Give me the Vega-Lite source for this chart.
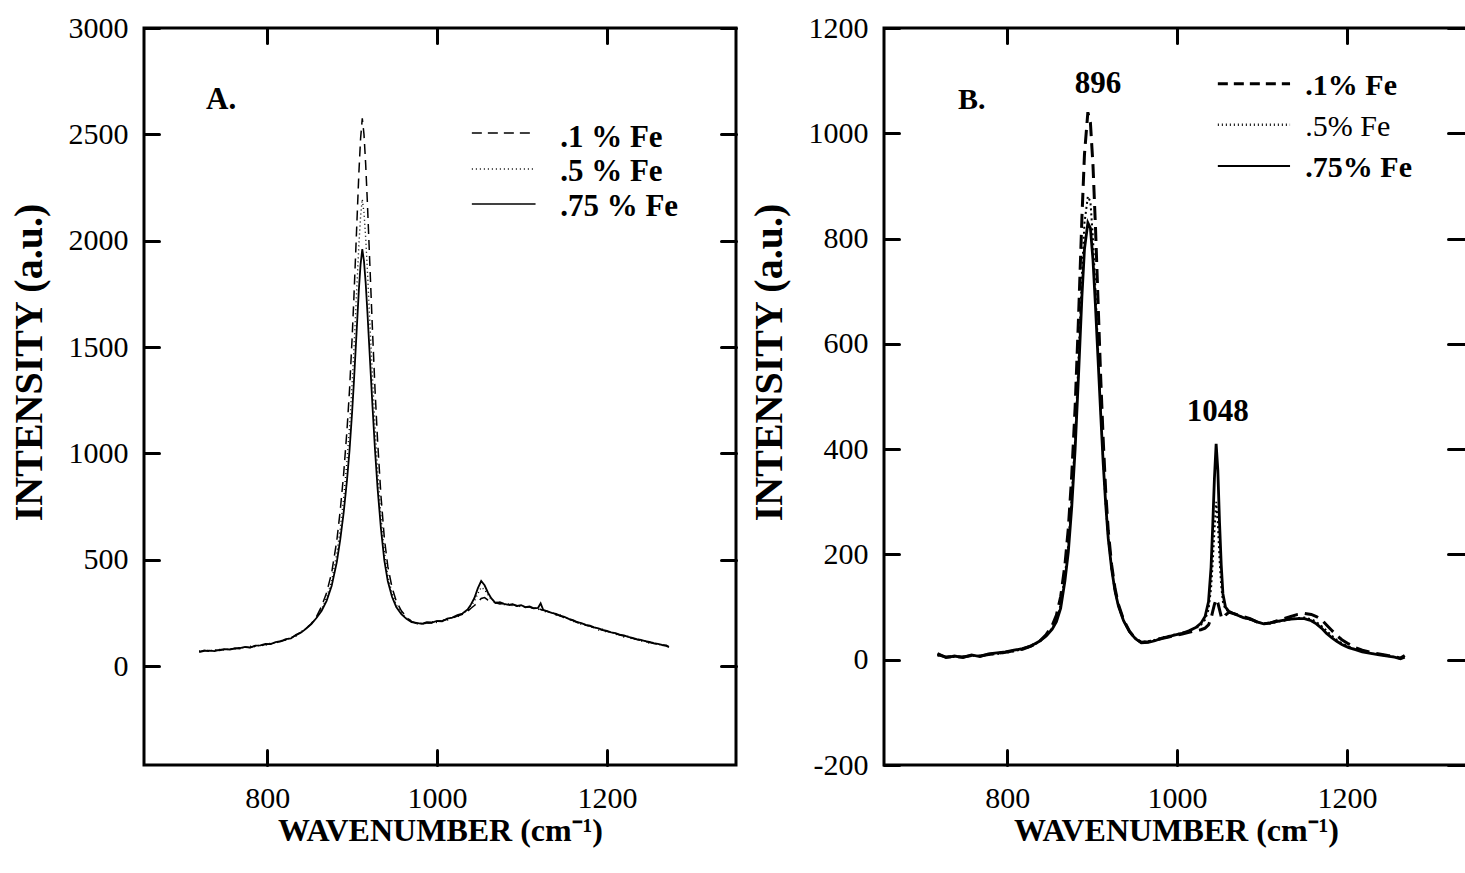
{
  "$schema": "https://vega.github.io/schema/vega-lite/v6.json",
  "background": "white",
  "padding": {"left": 7, "top": 11, "right": 0, "bottom": 0},
  "spacing": 8,
  "config": {
    "view": {"stroke": "black", "strokeWidth": 3},
    "font": "Liberation Serif",
    "axis": {"domain": false, "grid": false, "tickColor": "black", "tickWidth": 3, "tickSize": -15, "tickCap": "round",
      "labelExpr": "datum.value < 0 ? '-' + abs(datum.value) : '' + datum.value",
      "labelFont": "Liberation Serif", "labelFontSize": 30, "labelColor": "black",
      "titleFont": "Liberation Serif", "titleFontWeight": "bold", "titleColor": "black"},
    "axisX": {"labelPadding": 33, "titlePadding": 2, "titleFontSize": 32},
    "axisY": {"labelPadding": 31, "titlePadding": 19, "titleFontSize": 40}
  },
  "datasets": {
    "A": [
      {"x":720,"d1":68,"d5":72,"d75":66},{"x":726,"d1":74,"d5":70,"d75":72},{"x":732,"d1":70,"d5":75,"d75":73},{"x":738,"d1":76,"d5":72,"d75":70},
      {"x":744,"d1":73,"d5":78,"d75":76},{"x":750,"d1":79,"d5":75,"d75":80},{"x":756,"d1":77,"d5":82,"d75":78},{"x":762,"d1":84,"d5":80,"d75":83},
      {"x":768,"d1":82,"d5":87,"d75":85},{"x":774,"d1":89,"d5":85,"d75":90},{"x":780,"d1":88,"d5":93,"d75":87},{"x":786,"d1":95,"d5":91,"d75":96},
      {"x":792,"d1":94,"d5":100,"d75":97},{"x":798,"d1":102,"d5":98,"d75":104},{"x":804,"d1":104,"d5":108,"d75":103},{"x":810,"d1":112,"d5":107,"d75":113},
      {"x":816,"d1":115,"d5":120,"d75":117},{"x":822,"d1":124,"d5":121,"d75":127},{"x":828,"d1":132,"d5":136,"d75":130},{"x":834,"d1":145,"d5":141,"d75":147},
      {"x":840,"d1":160,"d5":162,"d75":158},{"x":846,"d1":178,"d5":180,"d75":176},{"x":852,"d1":200,"d5":198,"d75":197},{"x":858,"d1":232,"d5":228,"d75":226},
      {"x":864,"d1":280,"d5":267,"d75":259},{"x":870,"d1":345,"d5":322,"d75":307},{"x":876,"d1":440,"d5":402,"d75":378},{"x":882,"d1":590,"d5":528,"d75":489},
      {"x":886,"d1":730,"d5":645,"d75":593},{"x":890,"d1":900,"d5":788,"d75":719},{"x":894,"d1":1110,"d5":964,"d75":874},{"x":897,"d1":1300,"d5":1124,"d75":1015},
      {"x":900,"d1":1540,"d5":1326,"d75":1193},{"x":902,"d1":1720,"d5":1477,"d75":1326},{"x":904,"d1":1920,"d5":1645,"d75":1475},{"x":906,"d1":2120,"d5":1813,"d75":1623},
      {"x":908,"d1":2320,"d5":1981,"d75":1771},{"x":910,"d1":2480,"d5":2115,"d75":1889},{"x":912,"d1":2575,"d5":2195,"d75":1960},{"x":914,"d1":2500,"d5":2132,"d75":1904},
      {"x":916,"d1":2360,"d5":2014,"d75":1801},{"x":918,"d1":2180,"d5":1863,"d75":1667},{"x":920,"d1":1980,"d5":1695,"d75":1519},{"x":922,"d1":1780,"d5":1527,"d75":1371},
      {"x":924,"d1":1580,"d5":1359,"d75":1223},{"x":927,"d1":1300,"d5":1124,"d75":1015},{"x":930,"d1":1060,"d5":922,"d75":837},{"x":934,"d1":800,"d5":704,"d75":645},
      {"x":938,"d1":600,"d5":536,"d75":496},{"x":942,"d1":470,"d5":427,"d75":400},{"x":947,"d1":370,"d5":343,"d75":326},{"x":952,"d1":305,"d5":288,"d75":278},
      {"x":958,"d1":260,"d5":250,"d75":244},{"x":964,"d1":230,"d5":225,"d75":222},{"x":970,"d1":210,"d5":212,"d75":207},{"x":976,"d1":200,"d5":197,"d75":203},
      {"x":982,"d1":197,"d5":203,"d75":199},{"x":988,"d1":204,"d5":199,"d75":206},{"x":994,"d1":203,"d5":209,"d75":205},{"x":1000,"d1":210,"d5":205,"d75":212},
      {"x":1006,"d1":213,"d5":218,"d75":210},{"x":1012,"d1":220,"d5":215,"d75":223},{"x":1018,"d1":226,"d5":231,"d75":228},{"x":1024,"d1":235,"d5":230,"d75":240},
      {"x":1030,"d1":244,"d5":249,"d75":247},{"x":1036,"d1":258,"d5":262,"d75":266},{"x":1040,"d1":272,"d5":285,"d75":290},{"x":1044,"d1":285,"d5":305,"d75":320},
      {"x":1048,"d1":300,"d5":340,"d75":365},{"x":1052,"d1":318,"d5":370,"d75":400},{"x":1056,"d1":322,"d5":360,"d75":380},{"x":1060,"d1":310,"d5":335,"d75":345},
      {"x":1064,"d1":302,"d5":312,"d75":318},{"x":1069,"d1":298,"d5":303,"d75":296},{"x":1074,"d1":292,"d5":297,"d75":300},{"x":1079,"d1":295,"d5":289,"d75":293},
      {"x":1084,"d1":286,"d5":292,"d75":288},{"x":1089,"d1":290,"d5":284,"d75":291},{"x":1094,"d1":281,"d5":287,"d75":283},{"x":1099,"d1":284,"d5":278,"d75":286},
      {"x":1104,"d1":276,"d5":281,"d75":277},{"x":1109,"d1":279,"d5":273,"d75":280},{"x":1114,"d1":270,"d5":276,"d75":272},{"x":1119,"d1":272,"d5":266,"d75":274},
      {"x":1122,"d1":266,"d5":270,"d75":295},{"x":1125,"d1":262,"d5":258,"d75":265},{"x":1130,"d1":258,"d5":253,"d75":257},{"x":1135,"d1":248,"d5":254,"d75":250},
      {"x":1140,"d1":244,"d5":239,"d75":246},{"x":1145,"d1":235,"d5":240,"d75":237},{"x":1150,"d1":229,"d5":224,"d75":231},{"x":1155,"d1":220,"d5":225,"d75":222},
      {"x":1160,"d1":214,"d5":209,"d75":216},{"x":1165,"d1":205,"d5":210,"d75":207},{"x":1170,"d1":200,"d5":195,"d75":202},{"x":1175,"d1":192,"d5":197,"d75":194},
      {"x":1180,"d1":188,"d5":183,"d75":190},{"x":1185,"d1":180,"d5":185,"d75":182},{"x":1190,"d1":175,"d5":170,"d75":177},{"x":1195,"d1":168,"d5":173,"d75":170},
      {"x":1200,"d1":164,"d5":159,"d75":166},{"x":1205,"d1":157,"d5":162,"d75":159},{"x":1210,"d1":153,"d5":148,"d75":155},{"x":1215,"d1":146,"d5":151,"d75":148},
      {"x":1220,"d1":142,"d5":137,"d75":144},{"x":1225,"d1":135,"d5":140,"d75":137},{"x":1230,"d1":131,"d5":126,"d75":133},{"x":1235,"d1":125,"d5":130,"d75":127},
      {"x":1240,"d1":121,"d5":116,"d75":123},{"x":1245,"d1":115,"d5":120,"d75":117},{"x":1250,"d1":112,"d5":107,"d75":114},{"x":1255,"d1":106,"d5":111,"d75":108},
      {"x":1260,"d1":103,"d5":98,"d75":105},{"x":1265,"d1":98,"d5":103,"d75":100},{"x":1270,"d1":95,"d5":91,"d75":97},{"x":1273,"d1":92,"d5":96,"d75":88}
    ],
    "B": [
      {"x":718,"d1":10,"d5":8,"d75":12},{"x":728,"d1":5,"d5":6,"d75":4},{"x":738,"d1":6,"d5":5,"d75":7},{"x":748,"d1":5,"d5":6,"d75":4},
      {"x":758,"d1":8,"d5":7,"d75":9},{"x":768,"d1":7,"d5":8,"d75":6},{"x":778,"d1":10,"d5":9,"d75":11},{"x":788,"d1":12,"d5":11,"d75":13},
      {"x":798,"d1":14,"d5":13,"d75":15},{"x":808,"d1":17,"d5":16,"d75":18},{"x":818,"d1":20,"d5":20,"d75":21},{"x":828,"d1":26,"d5":25,"d75":26},
      {"x":838,"d1":35,"d5":34,"d75":35},{"x":846,"d1":48,"d5":45,"d75":45},{"x":853,"d1":65,"d5":60,"d75":58},{"x":858,"d1":85,"d5":75,"d75":72},
      {"x":863,"d1":120,"d5":105,"d75":98},{"x":868,"d1":180,"d5":160,"d75":150},{"x":872,"d1":250,"d5":220,"d75":205},{"x":876,"d1":350,"d5":310,"d75":290},
      {"x":880,"d1":480,"d5":420,"d75":400},{"x":884,"d1":650,"d5":570,"d75":540},{"x":888,"d1":840,"d5":730,"d75":690},{"x":891,"d1":960,"d5":830,"d75":780},
      {"x":895,"d1":1040,"d5":880,"d75":830},{"x":898,"d1":1020,"d5":870,"d75":820},{"x":901,"d1":940,"d5":800,"d75":760},{"x":904,"d1":820,"d5":700,"d75":670},
      {"x":907,"d1":680,"d5":590,"d75":570},{"x":910,"d1":540,"d5":480,"d75":470},{"x":913,"d1":420,"d5":380,"d75":375},{"x":916,"d1":320,"d5":295,"d75":295},
      {"x":919,"d1":245,"d5":230,"d75":230},{"x":923,"d1":180,"d5":172,"d75":172},{"x":927,"d1":135,"d5":130,"d75":130},{"x":931,"d1":105,"d5":102,"d75":102},
      {"x":937,"d1":76,"d5":74,"d75":74},{"x":944,"d1":54,"d5":53,"d75":53},{"x":951,"d1":40,"d5":41,"d75":40},{"x":958,"d1":33,"d5":34,"d75":32},
      {"x":966,"d1":34,"d5":35,"d75":33},{"x":974,"d1":37,"d5":38,"d75":36},{"x":982,"d1":40,"d5":42,"d75":41},{"x":990,"d1":43,"d5":45,"d75":44},
      {"x":998,"d1":46,"d5":48,"d75":47},{"x":1006,"d1":49,"d5":51,"d75":50},{"x":1014,"d1":52,"d5":55,"d75":55},{"x":1022,"d1":55,"d5":60,"d75":61},
      {"x":1028,"d1":57,"d5":66,"d75":69},{"x":1033,"d1":60,"d5":76,"d75":82},{"x":1037,"d1":66,"d5":95,"d75":110},{"x":1040,"d1":78,"d5":135,"d75":175},
      {"x":1042,"d1":92,"d5":185,"d75":255},{"x":1044,"d1":105,"d5":245,"d75":345},{"x":1046,"d1":115,"d5":300,"d75":410},{"x":1048,"d1":108,"d5":260,"d75":360},
      {"x":1050,"d1":95,"d5":190,"d75":260},{"x":1052,"d1":82,"d5":140,"d75":180},{"x":1054,"d1":78,"d5":110,"d75":125},{"x":1057,"d1":85,"d5":95,"d75":100},
      {"x":1061,"d1":90,"d5":92,"d75":92},{"x":1066,"d1":88,"d5":88,"d75":88},{"x":1072,"d1":85,"d5":84,"d75":84},{"x":1078,"d1":82,"d5":80,"d75":80},
      {"x":1086,"d1":78,"d5":76,"d75":77},{"x":1094,"d1":72,"d5":72,"d75":72},{"x":1102,"d1":68,"d5":68,"d75":68},{"x":1110,"d1":70,"d5":69,"d75":70},
      {"x":1118,"d1":74,"d5":72,"d75":73},{"x":1126,"d1":78,"d5":74,"d75":75},{"x":1134,"d1":82,"d5":77,"d75":77},{"x":1142,"d1":86,"d5":79,"d75":78},
      {"x":1150,"d1":88,"d5":80,"d75":78},{"x":1158,"d1":86,"d5":77,"d75":74},{"x":1164,"d1":82,"d5":72,"d75":68},{"x":1170,"d1":76,"d5":64,"d75":60},
      {"x":1176,"d1":66,"d5":55,"d75":50},{"x":1182,"d1":56,"d5":46,"d75":42},{"x":1188,"d1":46,"d5":38,"d75":35},{"x":1194,"d1":38,"d5":31,"d75":29},
      {"x":1202,"d1":30,"d5":25,"d75":23},{"x":1210,"d1":23,"d5":20,"d75":19},{"x":1218,"d1":18,"d5":16,"d75":15},{"x":1228,"d1":14,"d5":12,"d75":12},
      {"x":1238,"d1":11,"d5":10,"d75":9},{"x":1248,"d1":8,"d5":8,"d75":7},{"x":1256,"d1":6,"d5":5,"d75":5},{"x":1263,"d1":3,"d5":2,"d75":2},{"x":1268,"d1":8,"d5":6,"d75":5}
    ],
    "legA": [
      {"x1":1041,"x2":1116,"y":2506,"s":"d1"},
      {"x1":1041,"x2":1116,"y":2337,"s":"d5"},
      {"x1":1041,"x2":1116,"y":2173,"s":"d75"}
    ],
    "txtA": [
      {"x":728,"y":2661,"t":"A."},
      {"x":1145,"y":2483,"t":".1 % Fe"},
      {"x":1145,"y":2323,"t":".5 % Fe"},
      {"x":1145,"y":2158,"t":".75 % Fe"}
    ],
    "legB": [
      {"x1":1048,"x2":1133,"y":1094,"s":"d1"},
      {"x1":1048,"x2":1133,"y":1016,"s":"d5"},
      {"x1":1048,"x2":1133,"y":938,"s":"d75"}
    ],
    "txtBbold": [
      {"x":742,"y":1063,"t":"B."},
      {"x":1151,"y":1090,"t":".1% Fe"},
      {"x":1151,"y":934,"t":".75% Fe"}
    ],
    "txtBnorm": [
      {"x":1151,"y":1012,"t":".5% Fe"}
    ],
    "txtBcenter": [
      {"x":907,"y":1094,"t":"896"},
      {"x":1048,"y":471,"t":"1048"}
    ]
  },
  "hconcat": [
    {
      "width": 592, "height": 737,
      "layer": [
        {
          "data": {"name": "A"},
          "mark": {"type": "line", "color": "black", "clip": true, "strokeDash": [10, 6], "strokeWidth": 1.5},
          "encoding": {
            "x": {"field": "x", "type": "quantitative", "scale": {"domain": [655, 1352], "nice": false, "zero": false},
              "axis": {"orient": "bottom", "values": [800, 1000, 1200], "title": "WAVENUMBER (cm⁻¹)"}},
            "y": {"field": "d1", "type": "quantitative", "scale": {"domain": [-465, 3000], "nice": false, "zero": false},
              "axis": {"orient": "left", "values": [0, 500, 1000, 1500, 2000, 2500, 3000], "title": "INTENSITY (a.u.)", "titleY": 334}}
          }
        },
        {
          "data": {"name": "A"},
          "mark": {"type": "line", "color": "black", "clip": true, "strokeDash": [1, 3], "strokeWidth": 1.4},
          "encoding": {
            "x": {"field": "x", "type": "quantitative", "axis": null},
            "y": {"field": "d5", "type": "quantitative", "axis": null}
          }
        },
        {
          "data": {"name": "A"},
          "mark": {"type": "line", "color": "black", "clip": true, "strokeWidth": 1.8},
          "encoding": {
            "x": {"field": "x", "type": "quantitative", "axis": null},
            "y": {"field": "d75", "type": "quantitative", "axis": null}
          }
        },
        {
          "data": {"name": "legA"},
          "mark": {"type": "rule", "color": "black"},
          "encoding": {
            "x": {"field": "x1", "type": "quantitative", "scale": {"domain": [655, 1352], "nice": false, "zero": false},
              "axis": {"orient": "top", "values": [800, 1000, 1200], "labels": false, "title": null}},
            "x2": {"field": "x2"},
            "y": {"field": "y", "type": "quantitative", "scale": {"domain": [-465, 3000], "nice": false, "zero": false},
              "axis": {"orient": "right", "values": [0, 500, 1000, 1500, 2000, 2500, 3000], "labels": false, "title": null}},
            "strokeDash": {"field": "s", "type": "nominal", "scale": {"domain": ["d1", "d5", "d75"], "range": [[10, 6], [1, 3], [1, 0]]}, "legend": null},
            "strokeWidth": {"value": 1.5}
          }
        },
        {
          "data": {"name": "txtA"},
          "mark": {"type": "text", "align": "left", "baseline": "middle", "font": "Liberation Serif", "fontSize": 31, "fontWeight": "bold", "color": "black"},
          "encoding": {
            "x": {"field": "x", "type": "quantitative", "axis": null},
            "y": {"field": "y", "type": "quantitative", "axis": null},
            "text": {"field": "t"}
          }
        }
      ],
      "resolve": {"axis": {"x": "independent", "y": "independent"}}
    },
    {
      "width": 584, "height": 737,
      "layer": [
        {
          "data": {"name": "B"},
          "mark": {"type": "line", "color": "black", "clip": true, "strokeDash": [14, 7], "strokeWidth": 3},
          "encoding": {
            "x": {"field": "x", "type": "quantitative", "scale": {"domain": [655, 1342.5], "nice": false, "zero": false},
              "axis": {"orient": "bottom", "values": [800, 1000, 1200], "title": "WAVENUMBER (cm⁻¹)"}},
            "y": {"field": "d1", "type": "quantitative", "scale": {"domain": [-200, 1200], "nice": false, "zero": false},
              "axis": {"orient": "left", "values": [-200, 0, 200, 400, 600, 800, 1000, 1200], "title": "INTENSITY (a.u.)", "titleY": 334}}
          }
        },
        {
          "data": {"name": "B"},
          "mark": {"type": "line", "color": "black", "clip": true, "strokeDash": [2, 3], "strokeWidth": 2},
          "encoding": {
            "x": {"field": "x", "type": "quantitative", "axis": null},
            "y": {"field": "d5", "type": "quantitative", "axis": null}
          }
        },
        {
          "data": {"name": "B"},
          "mark": {"type": "line", "color": "black", "clip": true, "strokeWidth": 2.8},
          "encoding": {
            "x": {"field": "x", "type": "quantitative", "axis": null},
            "y": {"field": "d75", "type": "quantitative", "axis": null}
          }
        },
        {
          "data": {"name": "legB"},
          "mark": {"type": "rule", "color": "black"},
          "encoding": {
            "x": {"field": "x1", "type": "quantitative", "scale": {"domain": [655, 1342.5], "nice": false, "zero": false},
              "axis": {"orient": "top", "values": [800, 1000, 1200], "labels": false, "title": null}},
            "x2": {"field": "x2"},
            "y": {"field": "y", "type": "quantitative", "scale": {"domain": [-200, 1200], "nice": false, "zero": false},
              "axis": {"orient": "right", "values": [-200, 0, 200, 400, 600, 800, 1000, 1200], "labels": false, "title": null, "tickSize": -20}},
            "strokeDash": {"field": "s", "type": "nominal", "scale": {"domain": ["d1", "d5", "d75"], "range": [[14, 7], [2, 3], [1, 0]]}, "legend": null},
            "strokeWidth": {"field": "s", "type": "ordinal", "scale": {"domain": ["d1", "d5", "d75"], "range": [3, 2, 3]}, "legend": null}
          }
        },
        {
          "data": {"name": "txtBbold"},
          "mark": {"type": "text", "align": "left", "baseline": "middle", "font": "Liberation Serif", "fontSize": 30, "fontWeight": "bold", "color": "black"},
          "encoding": {
            "x": {"field": "x", "type": "quantitative", "axis": null},
            "y": {"field": "y", "type": "quantitative", "axis": null},
            "text": {"field": "t"}
          }
        },
        {
          "data": {"name": "txtBnorm"},
          "mark": {"type": "text", "align": "left", "baseline": "middle", "font": "Liberation Serif", "fontSize": 30, "fontWeight": "normal", "color": "black"},
          "encoding": {
            "x": {"field": "x", "type": "quantitative", "axis": null},
            "y": {"field": "y", "type": "quantitative", "axis": null},
            "text": {"field": "t"}
          }
        },
        {
          "data": {"name": "txtBcenter"},
          "mark": {"type": "text", "align": "center", "baseline": "middle", "font": "Liberation Serif", "fontSize": 31, "fontWeight": "bold", "color": "black"},
          "encoding": {
            "x": {"field": "x", "type": "quantitative", "axis": null},
            "y": {"field": "y", "type": "quantitative", "axis": null},
            "text": {"field": "t"}
          }
        }
      ],
      "resolve": {"axis": {"x": "independent", "y": "independent"}}
    }
  ]
}
